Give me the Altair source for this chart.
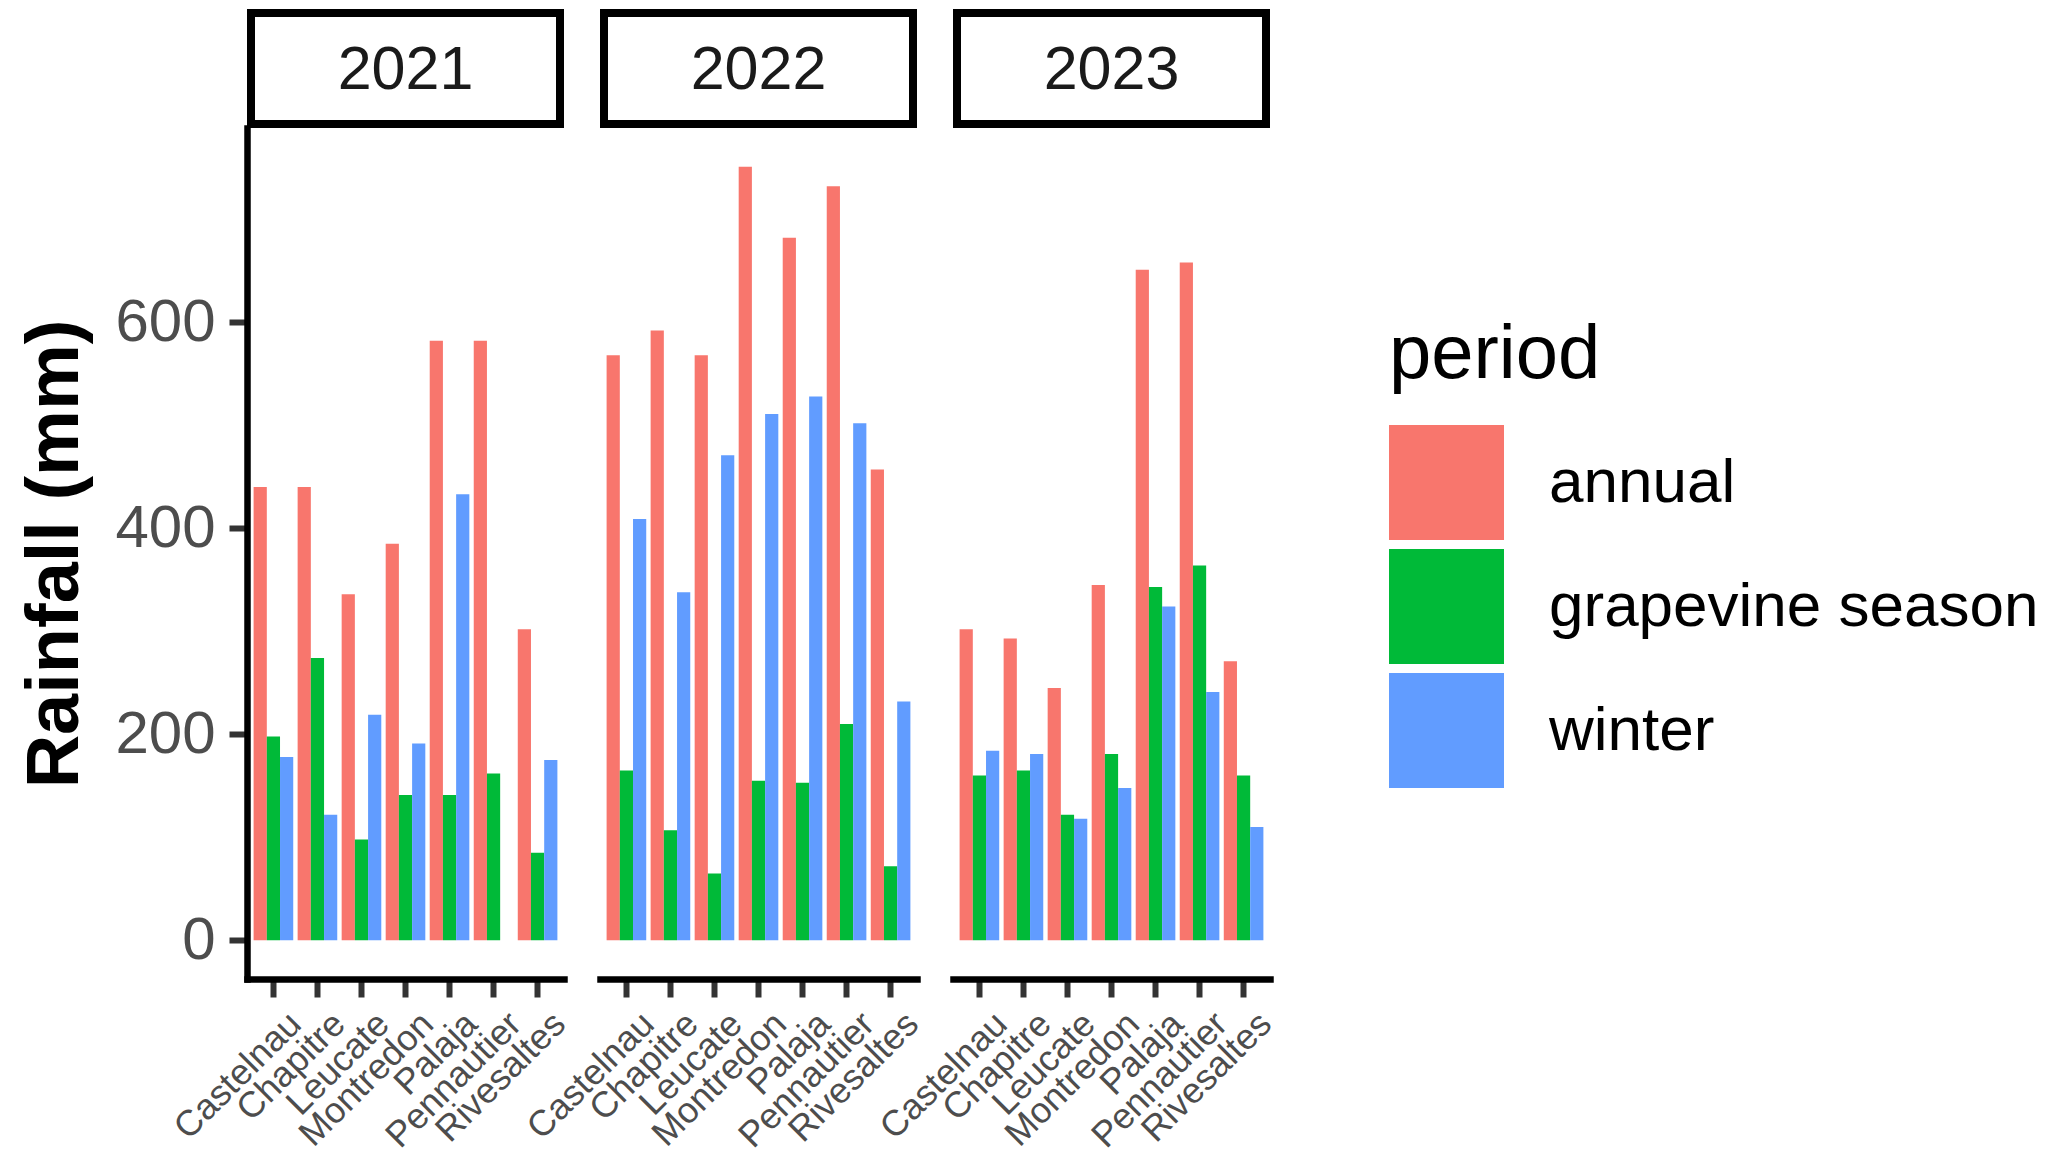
import altair as alt
import pandas as pd

sites = ["Castelnau", "Chapitre", "Leucate", "Montredon", "Palaja", "Pennautier", "Rivesaltes"]
years = ["2021", "2022", "2023"]
periods = ["annual", "grapevine season", "winter"]
colors = ["#F8766D", "#00BA38", "#619CFF"]

annual_2021 = [440, 440, 336, 385, 582, 582, 302]
grape_2021 = [198, 274, 98, 141, 141, 162, 85]
winter_2021 = [178, 122, 219, 191, 433, None, 175]

annual_2022 = [568, 592, 568, 751, 682, 732, 457]
grape_2022 = [165, 107, 65, 155, 153, 210, 72]
winter_2022 = [409, 338, 471, 511, 528, 502, 232]

annual_2023 = [302, 293, 245, 345, 651, 658, 271]
grape_2023 = [160, 165, 122, 181, 343, 364, 160]
winter_2023 = [184, 181, 118, 148, 324, 241, 110]

series = {
    "2021": [annual_2021, grape_2021, winter_2021],
    "2022": [annual_2022, grape_2022, winter_2022],
    "2023": [annual_2023, grape_2023, winter_2023],
}

rows = []
for yr in years:
    for per, vals in zip(periods, series[yr]):
        for s, v in zip(sites, vals):
            if v is not None:
                rows.append({"year": yr, "site": s, "period": per, "rain": v})
df = pd.DataFrame(rows)
strip_df = pd.DataFrame({"year": years})

PW, PH = 317, 851
FONT = "Liberation Sans"
STRIP_H = 119  # strip box height above each panel (outer)

columns = []
for i, yr in enumerate(years):
    strip_box = (
        alt.Chart(strip_df)
        .transform_filter(alt.datum.year == yr)
        .mark_rect(fill="white", stroke="black", strokeWidth=8)
        .encode(x=alt.value(4), x2=alt.value(PW - 4),
                y=alt.value(-STRIP_H + 4), y2=alt.value(-4))
    )
    strip_text = (
        alt.Chart(strip_df)
        .transform_filter(alt.datum.year == yr)
        .mark_text(fontSize=61, color="#1A1A1A", font=FONT, baseline="middle", align="center")
        .encode(text="year:N", x=alt.value(PW / 2), y=alt.value(-STRIP_H / 2 + 2))
    )
    if i == 0:
        yaxis = alt.Axis(
            title="Rainfall (mm)", values=[0, 200, 400, 600], grid=False,
            titleFontSize=74, titleFontWeight="bold", titleColor="black", titleFont=FONT,
            titlePadding=21,
            labelFontSize=60, labelColor="#4D4D4D", labelPadding=14, labelFont=FONT,
            domainColor="black", domainWidth=6.5, domainCap="square",
            tickColor="#333333", tickWidth=6, tickSize=18,
        )
    else:
        yaxis = None
    bars = (
        alt.Chart(df)
        .transform_filter(alt.datum.year == yr)
        .mark_bar()
        .encode(
            x=alt.X("site:N", sort=sites,
                    scale=alt.Scale(domain=sites, paddingInner=0.1, paddingOuter=0.15),
                    axis=alt.Axis(title=None, labelAngle=-45, labelAlign="right",
                                  labelBaseline="top", labelFontSize=36, labelColor="#4D4D4D",
                                  labelFont=FONT, labelPadding=9, labelOffset=10, labelLimit=0,
                                  labelOverlap=False, grid=False,
                                  domainColor="black", domainWidth=6.5, domainCap="square",
                                  tickColor="#333333", tickWidth=6, tickSize=18)),
            xOffset=alt.XOffset("period:N", sort=periods,
                                scale=alt.Scale(domain=periods, paddingInner=0, paddingOuter=0)),
            y=alt.Y("rain:Q", scale=alt.Scale(domain=[-37.5, 788.6], nice=False, zero=False),
                    axis=yaxis),
            color=alt.Color("period:N", sort=periods,
                            scale=alt.Scale(domain=periods, range=colors),
                            legend=alt.Legend(
                                title="period", orient="none", legendX=1142, legendY=190,
                                titleFontSize=76, titleFontWeight="normal", titleColor="black",
                                titleFont=FONT, titlePadding=31, titleLimit=0,
                                labelFontSize=62, labelColor="black", labelFont=FONT,
                                labelOffset=45, labelLimit=0, symbolType="square",
                                symbolSize=13225, symbolStrokeWidth=0, rowPadding=9)),
        )
    )
    columns.append(alt.layer(strip_box, strip_text, bars).properties(width=PW, height=PH))

chart = (
    alt.hconcat(*columns, spacing=36, bounds="flush")
    .resolve_scale(color="shared")
    .properties(padding={"left": 10, "top": 0, "right": 0, "bottom": 0})
    .configure(font=FONT)
    .configure_view(stroke="transparent")
)

chart.save("out.html", embed_options={"renderer": "svg", "actions": False})
